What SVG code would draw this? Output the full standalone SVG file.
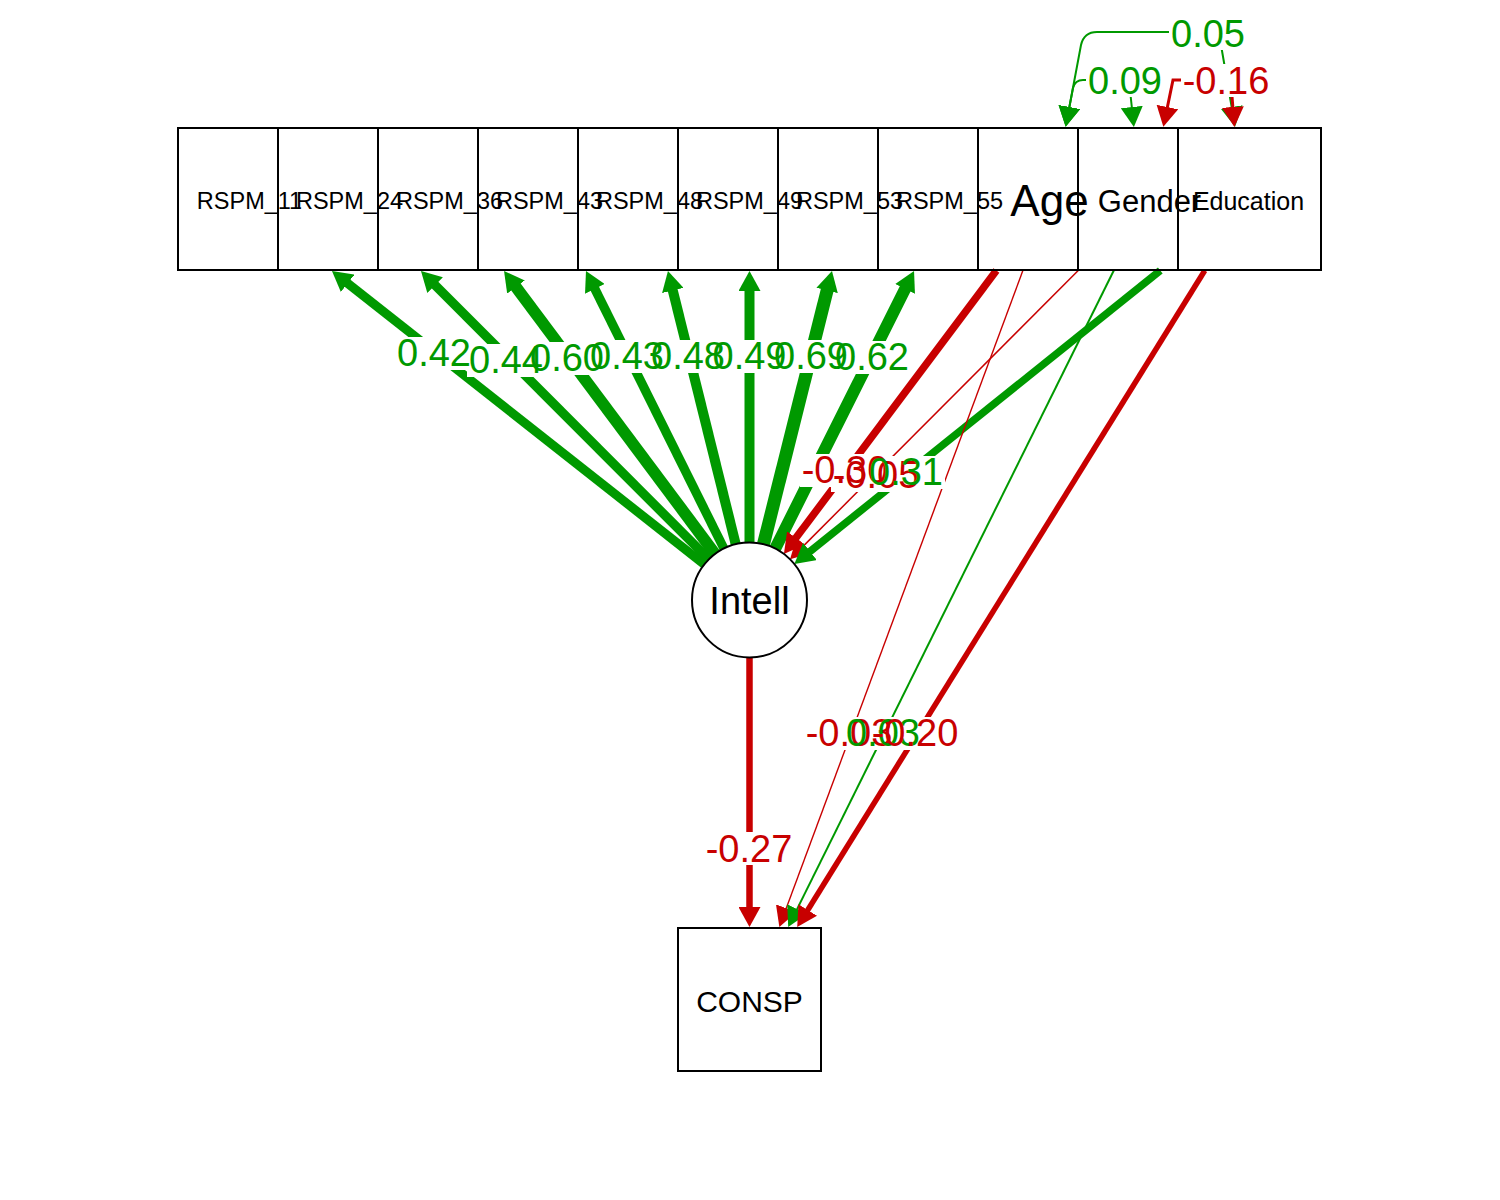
<svg xmlns="http://www.w3.org/2000/svg" width="1500" height="1200" viewBox="0 0 1500 1200">
<style>
.box{fill:none;stroke:#000;stroke-width:2}
.circ{fill:#fff;stroke:#000;stroke-width:2}
.nl{font-family:"Liberation Sans",Arial,sans-serif;fill:#000;text-anchor:middle}
.g{stroke:#009900;fill:none}
.r{stroke:#C80000;fill:none}
.ga{marker-end:url(#ahG)}
.ra{marker-end:url(#ahR)}
.gb{marker-start:url(#ahG);marker-end:url(#ahG)}
.rb{marker-start:url(#ahR);marker-end:url(#ahR)}
.bg{fill:#fff;stroke:none}
.el{font-family:"Liberation Sans",Arial,sans-serif;font-size:38px;text-anchor:middle}
.elg{fill:#009900}
.elr{fill:#C80000}
</style>
<defs>
<marker id="ahG" markerUnits="userSpaceOnUse" viewBox="0 0 20 22" markerWidth="20" markerHeight="22" refX="2" refY="11" orient="auto-start-reverse"><path d="M0,0 L20,11 L0,22 z" fill="#009900"/></marker>
<marker id="ahR" markerUnits="userSpaceOnUse" viewBox="0 0 20 22" markerWidth="20" markerHeight="22" refX="2" refY="11" orient="auto-start-reverse"><path d="M0,0 L20,11 L0,22 z" fill="#C80000"/></marker>
</defs>
<rect x="0" y="0" width="1500" height="1200" fill="#fff"/>
<g id="connectors">
<line class="g ga" x1="704.3" y1="564.4" x2="346.1" y2="282.1" stroke-width="9"/>
<line class="g ga" x1="708.9" y1="559.3" x2="433.7" y2="283.7" stroke-width="9.3"/>
<line class="g ga" x1="715.1" y1="553.9" x2="514.8" y2="285.4" stroke-width="11.7"/>
<line class="g ga" x1="723.9" y1="548.5" x2="594" y2="287.1" stroke-width="9.2"/>
<line class="g ga" x1="735.7" y1="544.2" x2="672.3" y2="288.5" stroke-width="10"/>
<line class="g ga" x1="749.5" y1="542.5" x2="749.5" y2="289" stroke-width="10"/>
<line class="g ga" x1="763.5" y1="544.2" x2="827.6" y2="288.5" stroke-width="13"/>
<line class="g ga" x1="775.2" y1="548.6" x2="906" y2="287.1" stroke-width="12"/>
<line class="r ra" x1="996.4" y1="270.5" x2="794.7" y2="539.6" stroke-width="7.5"/>
<line class="r ra" x1="1078.2" y1="270.5" x2="802.8" y2="546.6" stroke-width="1.5"/>
<line class="g ga" x1="1160.3" y1="270.5" x2="808.4" y2="552.7" stroke-width="7.5"/>
<line class="r ra" x1="749.5" y1="657.5" x2="749.5" y2="909" stroke-width="6.5"/>
<line class="r ra" x1="1022.9" y1="270.5" x2="785.6" y2="910.1" stroke-width="1.4"/>
<line class="g ga" x1="1113.8" y1="270.5" x2="796.2" y2="910.9" stroke-width="2"/>
<line class="r ra" x1="1204.8" y1="270.5" x2="806.7" y2="911.7" stroke-width="5.5"/>
<path class="g gb" d="M1069,109 L1081,45 Q1084,32 1097,32 L1205,32 Q1218,32 1221,45 L1232,109" stroke-width="2"/>
<path class="g gb" d="M1069,109 L1073,88 Q1075,80 1083,80 L1121,80 Q1129,80 1130,90 L1132,109" stroke-width="2"/>
<path class="r rb" d="M1167,109 L1173,80 L1226,80 Q1231,80 1231.5,90 L1233,109" stroke-width="3"/>
</g>
<g id="node-RSPM_11"><rect class="box" x="178" y="128" width="100" height="142"/><text class="nl" x="249.5" y="209" font-size="23.5">RSPM_11</text></g>
<g id="node-RSPM_24"><rect class="box" x="278" y="128" width="100" height="142"/><text class="nl" x="349.5" y="209" font-size="23.5">RSPM_24</text></g>
<g id="node-RSPM_36"><rect class="box" x="378" y="128" width="100" height="142"/><text class="nl" x="449.5" y="209" font-size="23.5">RSPM_36</text></g>
<g id="node-RSPM_43"><rect class="box" x="478" y="128" width="100" height="142"/><text class="nl" x="549.5" y="209" font-size="23.5">RSPM_43</text></g>
<g id="node-RSPM_48"><rect class="box" x="578" y="128" width="100" height="142"/><text class="nl" x="649.5" y="209" font-size="23.5">RSPM_48</text></g>
<g id="node-RSPM_49"><rect class="box" x="678" y="128" width="100" height="142"/><text class="nl" x="749.5" y="209" font-size="23.5">RSPM_49</text></g>
<g id="node-RSPM_53"><rect class="box" x="778" y="128" width="100" height="142"/><text class="nl" x="849.5" y="209" font-size="23.5">RSPM_53</text></g>
<g id="node-RSPM_55"><rect class="box" x="878" y="128" width="100" height="142"/><text class="nl" x="949.5" y="209" font-size="23.5">RSPM_55</text></g>
<g id="node-Age"><rect class="box" x="978" y="128" width="100" height="142"/><text class="nl" x="1049.5" y="216" font-size="44">Age</text></g>
<g id="node-Gender"><rect class="box" x="1078" y="128" width="100" height="142"/><text class="nl" x="1149.5" y="211.5" font-size="31">Gender</text></g>
<g id="node-Education"><rect class="box" x="1178" y="128" width="143" height="142"/><text class="nl" x="1248.5" y="210" font-size="25">Education</text></g>
<g id="node-Intell"><circle class="circ" cx="749.5" cy="600" r="57.5"/><text class="nl" x="749.5" y="614" font-size="38">Intell</text></g>
<g id="node-CONSP"><rect class="box" x="678" y="928" width="143" height="143" fill="#fff"/><text class="nl" x="749.5" y="1012" font-size="30">CONSP</text></g>
<g id="edge-labels">
<rect class="bg" x="395" y="337" width="78" height="33"/>
<rect class="bg" x="467" y="344" width="78" height="33"/>
<rect class="bg" x="528" y="342" width="78" height="33"/>
<rect class="bg" x="588" y="340" width="78" height="33"/>
<rect class="bg" x="649" y="340" width="78" height="33"/>
<rect class="bg" x="710.5" y="340" width="78" height="33"/>
<rect class="bg" x="772" y="340" width="78" height="33"/>
<rect class="bg" x="833" y="341" width="78" height="33"/>
<rect class="bg" x="800" y="454" width="90" height="33"/>
<rect class="bg" x="831" y="459" width="90" height="33"/>
<rect class="bg" x="867" y="456" width="78" height="33"/>
<rect class="bg" x="704" y="832" width="90" height="33"/>
<rect class="bg" x="804" y="717" width="90" height="33"/>
<rect class="bg" x="844" y="717" width="78" height="33"/>
<rect class="bg" x="870" y="717" width="90" height="33"/>
<rect class="bg" x="1169" y="17" width="78" height="33"/>
<rect class="bg" x="1086" y="64" width="78" height="33"/>
<rect class="bg" x="1181" y="64" width="90" height="33"/>
<text class="el elg" x="434" y="366">0.42</text>
<text class="el elg" x="506" y="373">0.44</text>
<text class="el elg" x="567" y="371">0.60</text>
<text class="el elg" x="627" y="369">0.43</text>
<text class="el elg" x="688" y="369">0.48</text>
<text class="el elg" x="749.5" y="369">0.49</text>
<text class="el elg" x="811" y="369">0.69</text>
<text class="el elg" x="872" y="370">0.62</text>
<text class="el elr" x="845" y="483">-0.30</text>
<text class="el elr" x="876" y="488">-0.05</text>
<text class="el elg" x="906" y="485">0.31</text>
<text class="el elr" x="749" y="862">-0.27</text>
<text class="el elr" x="849" y="746">-0.03</text>
<text class="el elg" x="883" y="746">0.03</text>
<text class="el elr" x="915" y="746">-0.20</text>
<text class="el elg" x="1208" y="47">0.05</text>
<text class="el elg" x="1125" y="94">0.09</text>
<text class="el elr" x="1226" y="94">-0.16</text>
</g>
</svg>
